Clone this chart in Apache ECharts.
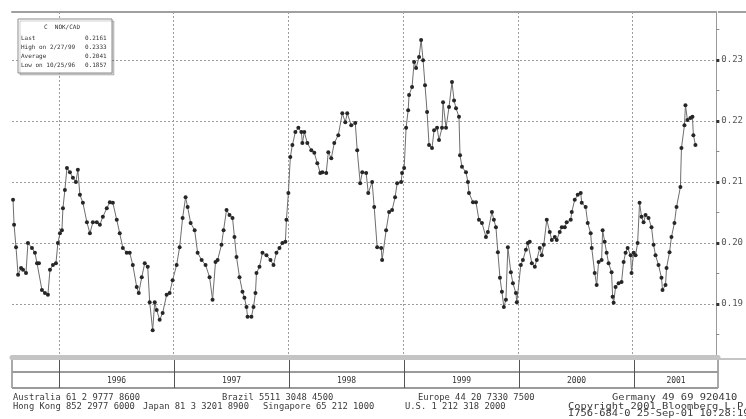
<!DOCTYPE html>
<html>
<head>
<meta charset="utf-8">
<script src="https://cdn.jsdelivr.net/npm/echarts@6/dist/echarts.min.js"></script>
<style>
  html, body { margin: 0; padding: 0; background: #fff; }
  #chart { width: 746px; height: 419px; }
</style>
</head>
<body>
<div id="chart"></div>
<script>
// weekly fixings, dates as decimal years
const dates = [
  1995.600, 1995.609, 1995.626, 1995.644, 1995.670, 1995.687, 1995.713, 1995.730, 1995.765, 1995.791,
  1995.809, 1995.826, 1995.852, 1995.878, 1995.904, 1995.922, 1995.948, 1995.974, 1995.991, 1996.009,
  1996.026, 1996.035, 1996.052, 1996.070, 1996.096, 1996.122, 1996.148, 1996.165, 1996.183, 1996.209,
  1996.244, 1996.270, 1996.296, 1996.330, 1996.357, 1996.383, 1996.417, 1996.444, 1996.470, 1996.504,
  1996.530, 1996.557, 1996.591, 1996.617, 1996.644, 1996.678, 1996.696, 1996.722, 1996.748, 1996.774,
  1996.791, 1996.817, 1996.835, 1996.852, 1996.878, 1996.904, 1996.939, 1996.965, 1996.991, 1997.026,
  1997.052, 1997.078, 1997.104, 1997.122, 1997.148, 1997.183, 1997.209, 1997.244, 1997.278, 1997.313,
  1997.339, 1997.365, 1997.383, 1997.417, 1997.435, 1997.461, 1997.487, 1997.513, 1997.530, 1997.548,
  1997.574, 1997.600, 1997.617, 1997.635, 1997.644, 1997.678, 1997.696, 1997.713, 1997.722, 1997.748,
  1997.774, 1997.809, 1997.844, 1997.870, 1997.896, 1997.922, 1997.948, 1997.974, 1997.983, 1998.000,
  1998.017, 1998.035, 1998.061, 1998.087, 1998.113, 1998.122, 1998.139, 1998.165, 1998.200, 1998.226,
  1998.252, 1998.278, 1998.296, 1998.330, 1998.348, 1998.374, 1998.400, 1998.435, 1998.470, 1998.496,
  1998.513, 1998.548, 1998.583, 1998.600, 1998.626, 1998.644, 1998.678, 1998.696, 1998.730, 1998.748,
  1998.774, 1998.809, 1998.817, 1998.852, 1998.878, 1998.904, 1998.930, 1998.948, 1998.983, 1998.991,
  1999.009, 1999.026, 1999.044, 1999.052, 1999.078, 1999.096, 1999.113, 1999.139, 1999.157, 1999.174,
  1999.191, 1999.209, 1999.226, 1999.252, 1999.270, 1999.296, 1999.313, 1999.339, 1999.348, 1999.374,
  1999.400, 1999.426, 1999.444, 1999.461, 1999.487, 1999.496, 1999.513, 1999.548, 1999.565, 1999.574,
  1999.609, 1999.635, 1999.661, 1999.687, 1999.722, 1999.739, 1999.774, 1999.791, 1999.809, 1999.826,
  1999.844, 1999.861, 1999.878, 1999.896, 1999.913, 1999.939, 1999.957, 1999.983, 1999.991, 2000.026,
  2000.044, 2000.070, 2000.087, 2000.104, 2000.122, 2000.148, 2000.165, 2000.191, 2000.209, 2000.226,
  2000.252, 2000.278, 2000.296, 2000.322, 2000.339, 2000.365, 2000.383, 2000.409, 2000.426, 2000.461,
  2000.470, 2000.496, 2000.522, 2000.548, 2000.557, 2000.591, 2000.609, 2000.635, 2000.644, 2000.670,
  2000.687, 2000.704, 2000.730, 2000.739, 2000.757, 2000.774, 2000.791, 2000.817, 2000.826, 2000.835,
  2000.852, 2000.878, 2000.904, 2000.922, 2000.939, 2000.957, 2000.983, 2000.991, 2001.009, 2001.026,
  2001.044, 2001.061, 2001.078, 2001.096, 2001.113, 2001.139, 2001.165, 2001.183, 2001.200, 2001.226,
  2001.252, 2001.261, 2001.287, 2001.296, 2001.322, 2001.339, 2001.365, 2001.383, 2001.417, 2001.426,
  2001.452, 2001.461, 2001.478, 2001.504, 2001.522, 2001.530, 2001.548
];
const rates = [
  0.2071, 0.2030, 0.1993, 0.1948, 0.1959, 0.1956, 0.1951, 0.2000, 0.1992, 0.1984,
  0.1967, 0.1967, 0.1923, 0.1918, 0.1915, 0.1956, 0.1964, 0.1967, 0.2000, 0.2016,
  0.2021, 0.2057, 0.2087, 0.2123, 0.2116, 0.2107, 0.2100, 0.2120, 0.2079, 0.2066,
  0.2034, 0.2016, 0.2034, 0.2034, 0.2030, 0.2043, 0.2057, 0.2067, 0.2066, 0.2038,
  0.2016, 0.1992, 0.1984, 0.1984, 0.1964, 0.1928, 0.1918, 0.1944, 0.1967, 0.1961,
  0.1903, 0.1857, 0.1903, 0.1890, 0.1874, 0.1885, 0.1915, 0.1918, 0.1939, 0.1964,
  0.1993, 0.2041, 0.2075, 0.2059, 0.2033, 0.2021, 0.1984, 0.1972, 0.1964, 0.1944,
  0.1907, 0.1969, 0.1972, 0.1997, 0.2021, 0.2054, 0.2046, 0.2041, 0.2010, 0.1977,
  0.1944, 0.1920, 0.1910, 0.1895, 0.1879, 0.1879, 0.1895, 0.1918, 0.1951, 0.1961,
  0.1984, 0.1980, 0.1972, 0.1964, 0.1984, 0.1992, 0.2000, 0.2002, 0.2038, 0.2082,
  0.2141, 0.2161, 0.2182, 0.2189, 0.2182, 0.2164, 0.2182, 0.2164, 0.2152, 0.2148,
  0.2131, 0.2115, 0.2116, 0.2115, 0.2149, 0.2139, 0.2164, 0.2177, 0.2213, 0.2198,
  0.2213, 0.2193, 0.2197, 0.2152, 0.2098, 0.2116, 0.2115, 0.2082, 0.2100, 0.2059,
  0.1993, 0.1992, 0.1972, 0.2021, 0.2051, 0.2054, 0.2075, 0.2098, 0.2100, 0.2115,
  0.2123, 0.2189, 0.2218, 0.2243, 0.2256, 0.2297, 0.2287, 0.2305, 0.2333, 0.2300,
  0.2259, 0.2215, 0.2161, 0.2156, 0.2185, 0.2189, 0.2169, 0.2189, 0.2231, 0.2189,
  0.2223, 0.2264, 0.2234, 0.2221, 0.2207, 0.2144, 0.2125, 0.2116, 0.2100, 0.2082,
  0.2067, 0.2067, 0.2038, 0.2033, 0.2010, 0.2018, 0.2051, 0.2038, 0.2026, 0.1985,
  0.1943, 0.1920, 0.1895, 0.1907, 0.1993, 0.1952, 0.1934, 0.1918, 0.1903, 0.1964,
  0.1972, 0.1989, 0.2000, 0.2002, 0.1967, 0.1961, 0.1972, 0.1992, 0.1980, 0.1997,
  0.2038, 0.2018, 0.2005, 0.2010, 0.2005, 0.2018, 0.2026, 0.2026, 0.2034, 0.2038,
  0.2051, 0.2071, 0.2079, 0.2082, 0.2066, 0.2059, 0.2033, 0.2016, 0.1992, 0.1951,
  0.1931, 0.1969, 0.1972, 0.2021, 0.2002, 0.1984, 0.1967, 0.1952, 0.1912, 0.1902,
  0.1928, 0.1934, 0.1936, 0.1969, 0.1984, 0.1992, 0.1980, 0.1951, 0.1984, 0.1980,
  0.2000, 0.2066, 0.2043, 0.2034, 0.2046, 0.2041, 0.2026, 0.1997, 0.1980, 0.1964,
  0.1943, 0.1923, 0.1931, 0.1959, 0.1985, 0.2010, 0.2033, 0.2059, 0.2092, 0.2156,
  0.2193, 0.2226, 0.2202, 0.2205, 0.2207, 0.2177, 0.2161
];
const yearTicks = [1996, 1997, 1998, 1999, 2000, 2001];
const yearLabelAt = [1996.5, 1997.5, 1998.5, 1999.5, 2000.5, 2001.365];
const rateLabels = [0.19, 0.20, 0.21, 0.22, 0.23];
const rateHalfTicks = [0.185, 0.195, 0.205, 0.215, 0.225, 0.235];

const xMin = 1995.591, xMax = 2001.730;
const yMin = 0.1813, yMax = 0.2379;
const mono = 'DejaVu Sans Mono';
const dotted = { color: '#9c9c9c', type: [2, 2], width: 1 };

// legend box numbers
const last = rates[rates.length - 1];
const hi = Math.max(...rates), lo = Math.min(...rates);
const avg = rates.reduce((a, b) => a + b, 0) / rates.length;
function mdy(t) {
  const y = Math.floor(t);
  const d = new Date(Date.UTC(y, 0, 1) + (t - y) * 365.25 * 864e5);
  return (d.getUTCMonth() + 1) + '/' + d.getUTCDate() + '/' + String(d.getUTCFullYear()).slice(2);
}
const hiDate = mdy(dates[rates.indexOf(hi)]);
const loDate = mdy(dates[rates.indexOf(lo)]);

const chart = echarts.init(document.getElementById('chart'));

const boxRows = [
  ['Last', last], ['High on ' + hiDate, hi], ['Average', avg], ['Low on ' + loDate, lo]
];
const boxFont = '6px ' + mono;
const graphics = [
  { type: 'line', shape: { x1: 718, y1: 12, x2: 746, y2: 12 }, style: { stroke: '#a0a0a0', lineWidth: 2 } },
  { type: 'line', shape: { x1: 718, y1: 359, x2: 746, y2: 359 }, style: { stroke: '#8a8a8a', lineWidth: 1 } },
  { type: 'rect', z: 10, shape: { x: 18, y: 19, width: 94, height: 54 },
    style: { fill: '#fff', stroke: '#8c8c8c', lineWidth: 1, shadowColor: 'rgba(0,0,0,0.18)', shadowOffsetX: 2, shadowOffsetY: 2 } },
  { type: 'text', z: 11, x: 62, y: 27, style: { text: 'C  NOK/CAD', align: 'center', verticalAlign: 'middle', font: boxFont, fill: '#333' } }
];
boxRows.forEach((r, i) => {
  graphics.push({ type: 'text', z: 11, x: 21, y: 38 + i * 9,
    style: { text: r[0], verticalAlign: 'middle', font: boxFont, fill: '#333' } });
  graphics.push({ type: 'text', z: 11, x: 85, y: 38 + i * 9,
    style: { text: r[1].toFixed(4), verticalAlign: 'middle', font: boxFont, fill: '#333' } });
});
// footer: [x, y, text, horizontal stretch]
const footer = [
  [13, 398, 'Australia 61 2 9777 8600', 1.1], [222, 398, 'Brazil 5511 3048 4500', 1.1],
  [418, 398, 'Europe 44 20 7330 7500', 1.1], [612, 398, 'Germany 49 69 920410', 1.3],
  [13, 407, 'Hong Kong 852 2977 6000', 1.1], [143, 407, 'Japan 81 3 3201 8900', 1.1],
  [263, 407, 'Singapore 65 212 1000', 1.1], [405, 407, 'U.S. 1 212 318 2000', 1.1],
  [568, 407, 'Copyright 2001 Bloomberg L.P.', 1.3], [568, 414, 'I756-684-0 25-Sep-01 10:28:19', 1.3]
];
footer.forEach(f => {
  graphics.push({ type: 'text', x: f[0], y: f[1], scaleX: f[3],
    style: { text: f[2], verticalAlign: 'middle', font: '8px ' + mono, fill: '#3a3a3a' } });
});

chart.setOption({
  backgroundColor: '#fff',
  animation: false,
  grid: [
    { left: 12, right: 28, top: 12, bottom: 62, show: false },
    { left: 12, right: 28, top: 357, bottom: 31, show: true, borderColor: '#555', borderWidth: 1 }
  ],
  xAxis: [
    { type: 'value', gridIndex: 0, min: xMin, max: xMax,
      axisLine: { show: false }, axisTick: { show: false, customValues: yearTicks },
      axisLabel: { show: false }, splitLine: { show: true, lineStyle: dotted } },
    { type: 'value', gridIndex: 0, position: 'top', min: xMin, max: xMax,
      axisLine: { show: true, lineStyle: { color: '#a0a0a0', width: 2 } },
      axisTick: { show: false }, axisLabel: { show: false }, splitLine: { show: false } },
    { type: 'value', gridIndex: 1, min: xMin, max: xMax,
      axisLine: { show: false }, axisTick: { show: false, customValues: yearTicks },
      axisLabel: { show: true, inside: true, margin: 3, customValues: yearLabelAt,
        formatter: v => String(Math.floor(v)), fontFamily: mono, fontSize: 8, color: '#333' },
      splitLine: { show: true, lineStyle: { color: '#555', width: 1 } } },
    { type: 'value', gridIndex: 1, position: 'top', min: xMin, max: xMax,
      axisLine: { show: true, lineStyle: { color: '#c4c4c4', width: 5 } },
      axisTick: { show: false }, axisLabel: { show: false }, splitLine: { show: false } }
  ],
  yAxis: [
    { type: 'value', gridIndex: 0, position: 'right', min: yMin, max: yMax,
      axisLine: { show: true, lineStyle: { color: '#9a9a9a' } },
      axisTick: { show: true, customValues: rateLabels, length: 3, lineStyle: { color: '#333', width: 3 } },
      axisLabel: { show: true, customValues: rateLabels, margin: 5, formatter: v => v.toFixed(2),
        fontFamily: mono, fontSize: 9, color: '#555' },
      splitLine: { show: true, lineStyle: dotted } },
    { type: 'value', gridIndex: 0, position: 'right', min: yMin, max: yMax,
      axisLine: { show: false },
      axisTick: { show: true, customValues: rateHalfTicks, length: 3, lineStyle: { color: '#888' } },
      axisLabel: { show: false }, splitLine: { show: false } },
    { type: 'value', gridIndex: 1, min: 0, max: 31, interval: 16,
      axisLine: { show: false }, axisTick: { show: false }, axisLabel: { show: false },
      splitLine: { show: true, lineStyle: { color: '#9a9a9a', width: 2 } } }
  ],
  series: [{
    type: 'line',
    xAxisIndex: 0, yAxisIndex: 0,
    data: dates.map((d, i) => [d, rates[i]]),
    symbol: 'circle', symbolSize: 4,
    lineStyle: { color: '#6e6e6e', width: 1 },
    itemStyle: { color: '#262626' },
    z: 5
  }],
  graphic: graphics
});
</script>
</body>
</html>
